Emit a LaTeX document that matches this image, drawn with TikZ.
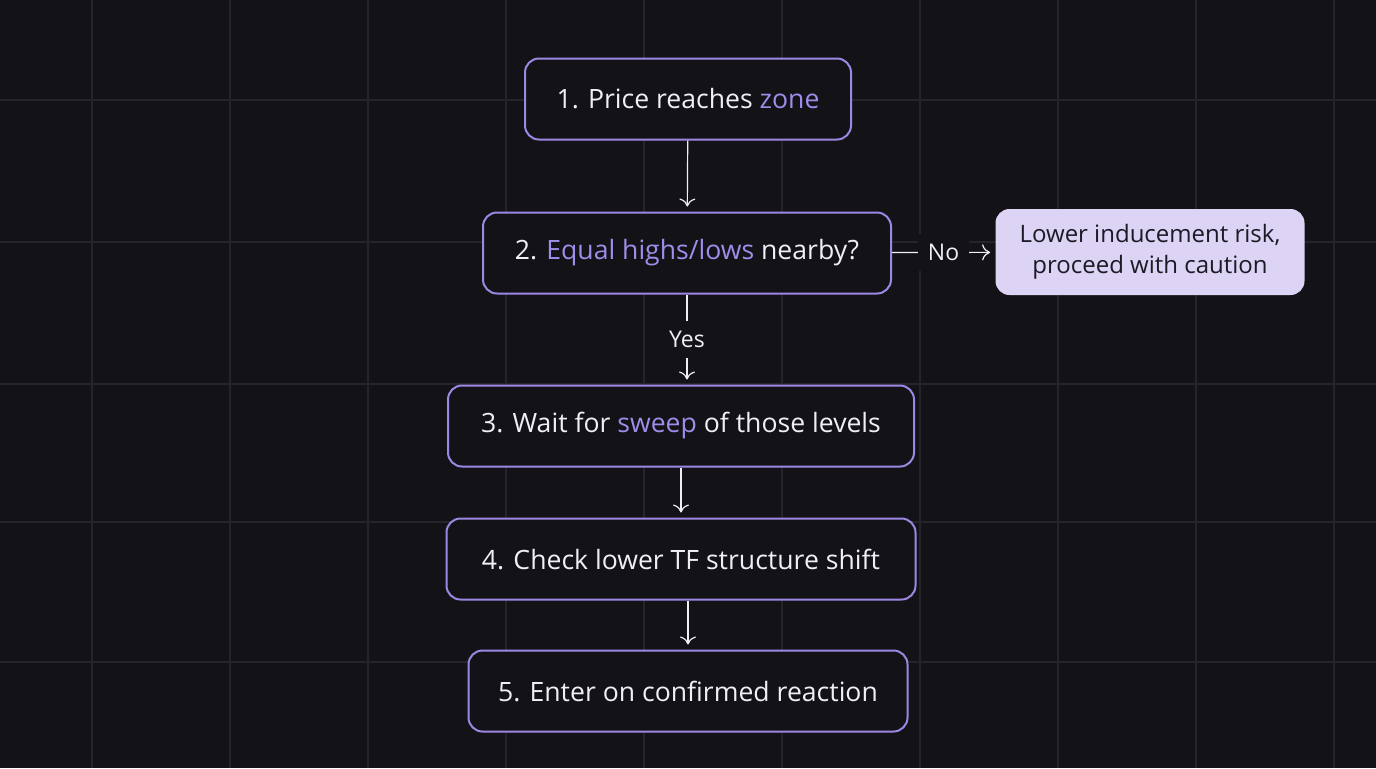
\documentclass[tikz,border=0pt]{standalone}
\usepackage{fontspec}
\setmainfont{Open Sans}
\usetikzlibrary{arrows.meta}
\definecolor{bg}{HTML}{131317}
\definecolor{gridc}{HTML}{24242A}
\definecolor{edge}{HTML}{9C88E2}
\definecolor{hl}{HTML}{A08CEA}
\definecolor{txt}{HTML}{F0EEF6}
\definecolor{side}{HTML}{DDD3F5}
\definecolor{sidetxt}{HTML}{1C1A24}
\tikzset{
  stage/.style={draw=edge, line width=1pt, rounded corners=7pt, fill=bg,
    text=txt, font=\fontsize{13.3}{16}\selectfont, minimum height=40.5pt},
  note/.style={fill=side, rounded corners=7pt, text=sidetxt, align=center,
    font=\fontsize{12}{15.5}\selectfont, minimum width=154.5pt, minimum height=43pt},
  flow/.style={draw=txt, line width=0.6pt, -{To[length=4pt,width=8pt]}, shorten >=2.5pt},
  lbl/.style={text=txt, font=\fontsize{11.5}{14}\selectfont, fill=bg, inner sep=5pt}
}
\begin{document}
\begin{tikzpicture}[x=0.5pt,y=-0.5pt]
\fill[bg] (0,0) rectangle (1376,768);
\useasboundingbox (0,0) rectangle (1376,768);
% grid
\foreach \gx in {92,230,368,506,644,782,920,1058,1196,1334}
  \draw[gridc, line width=0.6pt] (\gx,0) -- (\gx,768);
\foreach \gy in {100,242,384,522,662}
  \draw[gridc, line width=0.6pt] (0,\gy) -- (1376,\gy);
% steps
\node[stage, minimum width=163pt] (zone) at (688,99) {1. Price reaches \textcolor{hl}{zone}};
\node[stage, minimum width=204pt] (equal) at (687,253) {2. \textcolor{hl}{Equal highs/lows} nearby?};
\node[stage, minimum width=233pt] (sweep) at (681,426) {3. Wait for \textcolor{hl}{sweep} of those levels};
\node[stage, minimum width=234.5pt] (shift) at (681,559) {4. Check lower TF structure shift};
\node[stage, minimum width=219.5pt] (enter) at (688,691) {5. Enter on confirmed reaction};
\node[note] (risk) at (1150,252) {Lower inducement risk,\\proceed with caution};
% connectors
\draw[flow] (zone) -- (equal);
\draw[flow] (equal.south) -- node[lbl] {Yes} (equal.south |- sweep.north);
\draw[flow] (sweep.south -| shift.north) -- (shift);
\draw[flow] (shift.south -| enter.north) -- (enter);
\draw[flow] (equal) -- node[lbl] {No} (risk);
\end{tikzpicture}
\end{document}
